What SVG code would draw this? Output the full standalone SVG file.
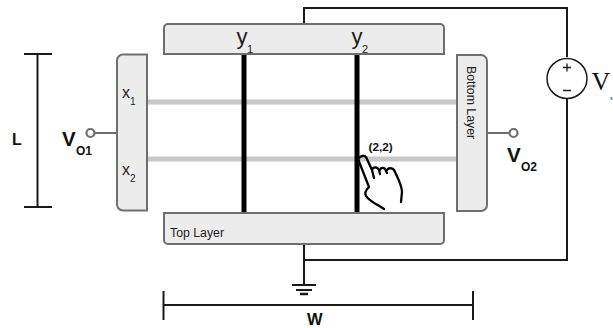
<svg xmlns="http://www.w3.org/2000/svg" width="613" height="328" viewBox="0 0 613 328">
<style>
.bar{fill:#ececec;stroke:#6e6e6e;stroke-width:2}
.w{fill:none;stroke:#1a1a1a;stroke-width:2}
.lead{fill:none;stroke:#6e6e6e;stroke-width:2.200}
.gray{stroke:#c8c8c8;stroke-width:5;fill:none}
.blk{stroke:#000;stroke-width:5;fill:none}
.t{font-family:"Liberation Sans",sans-serif;fill:#222}
.b{font-family:"Liberation Sans",sans-serif;font-weight:bold;fill:#111}
</style>
<g id="connectors">
<path class="gray" d="M147 102H457M147 159H457"/>
<path class="blk" d="M244 54V213M357 54V213"/>
<path class="w" d="M304 24V8H567V57M567 99V260H304M304 244V285"/>
<path class="w" d="M292 285H316M296 290H312"/>
<path d="M300 294H308" stroke="#1a1a1a" stroke-width="2.500" fill="none"/>
<path class="lead" d="M95 133H117M487 133H509"/>
<circle cx="90.500" cy="133" r="4" fill="#fff" stroke="#6e6e6e" stroke-width="2.200"/>
<circle cx="513.500" cy="133" r="4" fill="#fff" stroke="#6e6e6e" stroke-width="2.200"/>
</g>
<g id="node-y">
<path class="bar" d="M164 54V28a4 4 0 0 1 4-4H440a4 4 0 0 1 4 4V54Z"/>
<text class="t" x="236.500" y="44" font-size="22">y</text><text class="t" x="247" y="53" font-size="11">1</text>
<text class="t" x="351.500" y="44" font-size="22">y</text><text class="t" x="362" y="53" font-size="11">2</text>
</g>
<g id="node-x">
<path class="bar" d="M147 54.500V210.500H123a6 6 0 0 1-6-6V60.500a6 6 0 0 1 6-6Z"/>
<text class="t" x="122" y="98" font-size="16">x</text><text class="t" x="130" y="105" font-size="10">1</text>
<text class="t" x="122" y="175" font-size="16">x</text><text class="t" x="130" y="182" font-size="10">2</text>
</g>
<g id="node-bottom-layer">
<path class="bar" d="M457 55V211H481a6 6 0 0 0 6-6V61a6 6 0 0 0-6-6Z"/>
<text class="t" x="0" y="0" font-size="12.300" transform="translate(467 66) rotate(90)">Bottom Layer</text>
</g>
<g id="node-top-layer">
<path class="bar" d="M164 213H444V240a4 4 0 0 1-4 4H168a4 4 0 0 1-4-4Z"/>
<text class="t" x="170" y="237" font-size="12.300">Top Layer</text>
</g>
<g id="node-source">
<circle cx="567" cy="78.500" r="20" fill="#fff" stroke="#1a1a1a" stroke-width="1.500"/>
<path d="M563 67.500H571M567 63.500V71.500M563 90.500H571" stroke="#1a1a1a" stroke-width="1.300" fill="none"/>
<text x="591.500" y="90" font-size="26" font-family="Liberation Serif,serif" fill="#111">V</text>
<text x="610.300" y="100" font-size="6" font-family="Liberation Serif,serif" fill="#111">s</text>
</g>
<g id="node-hand">
<text class="b" x="368.500" y="151" font-size="11.800" fill="#223">(2,2)</text>
<path d="M359 158C361 156 364 155 366 157L372 170L374 178M372 170C373 167 377 166 379 170L380 174M380 170C381 167 385 167 386 171L387 173M387 170C389 167 394 168 395 172C398 178 402 186 402 192L401 202M358 159L369 187C366 190 364 193 366 196C369 201 378 205 384 209" fill="none" stroke="#000" stroke-width="2.300" stroke-linecap="round" stroke-linejoin="round"/>
</g>
<g id="dim-L">
<path class="w" d="M24 54H52M24 207H52M37.500 54V207"/>
<text class="b" x="12" y="145" font-size="16">L</text>
</g>
<g id="dim-W">
<path class="w" d="M163.500 291V320M473 291V320M163.500 305H473"/>
<text class="b" x="307" y="325" font-size="16.500">W</text>
</g>
<g id="label-vo1">
<text class="b" x="62" y="146" font-size="20.500">V</text><text class="b" x="76" y="155" font-size="12">O1</text>
</g>
<g id="label-vo2">
<text class="b" x="507" y="162" font-size="20.500">V</text><text class="b" x="521" y="171" font-size="12">O2</text>
</g>
</svg>
